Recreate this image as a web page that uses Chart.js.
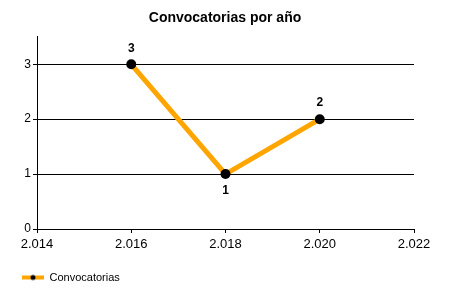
<!DOCTYPE html>
<html>
<head>
<meta charset="utf-8">
<script src="https://cdn.jsdelivr.net/npm/chart.js@4.4.1/dist/chart.umd.min.js"></script>
<style>
  html, body { margin: 0; padding: 0; background: #fff; }
  #wrap { width: 450px; height: 300px; }
</style>
</head>
<body>
<div id="wrap"><canvas id="chartCanvas" width="450" height="300"></canvas></div>
<script>
const years = [2016, 2018, 2020];
const convocatorias = [3, 1, 2];
const seriesName = 'Convocatorias';
const chartTitle = 'Convocatorias por año';

const orange = '#FFA500';
const font = '"Liberation Sans", Arial, sans-serif';

// legend symbol: orange line with a black dot in the middle
function legendSymbol() {
    const c = document.createElement('canvas');
    c.width = 22;
    c.height = 8;
    const g = c.getContext('2d');
    g.fillStyle = orange;
    g.fillRect(0, 2, 22, 4);
    g.fillStyle = '#000';
    g.beginPath();
    g.arc(11, 4, 2.5, 0, Math.PI * 2);
    g.fill();
    return c;
}
const symbol = legendSymbol();

// value labels above the points, below a local minimum
const valueLabels = {
    id: 'valueLabels',
    afterDatasetsDraw(chart) {
        const ctx = chart.ctx;
        const meta = chart.getDatasetMeta(0);
        const values = chart.data.datasets[0].data.map(p => p.y);
        ctx.save();
        ctx.font = 'bold 12px ' + font;
        ctx.fillStyle = '#000';
        ctx.textAlign = 'center';
        ctx.textBaseline = 'middle';
        meta.data.forEach((pt, i) => {
            const v = values[i];
            const prev = i > 0 ? values[i - 1] : Infinity;
            const next = i < values.length - 1 ? values[i + 1] : Infinity;
            const below = v < prev && v < next;
            ctx.fillText(String(v), pt.x, below ? pt.y + 17 : pt.y - 16);
        });
        ctx.restore();
    }
};

const ctx = document.getElementById('chartCanvas').getContext('2d');
new Chart(ctx, {
    type: 'line',
    data: {
        datasets: [{
            label: seriesName,
            data: years.map((y, i) => ({ x: y, y: convocatorias[i] })),
            borderColor: orange,
            borderWidth: 5,
            tension: 0,
            pointStyle: 'circle',
            pointRadius: 5,
            pointHoverRadius: 5,
            pointBackgroundColor: '#000',
            pointBorderColor: '#000',
            pointBorderWidth: 0
        }]
    },
    options: {
        responsive: false,
        animation: false,
        events: [],
        layout: { padding: { left: 12, right: 12, top: 0, bottom: 7 } },
        plugins: {
            title: {
                display: true,
                text: chartTitle,
                color: '#000',
                font: { family: font, size: 14, weight: 'bold' },
                padding: { top: 10, bottom: 10 }
            },
            legend: {
                display: true,
                position: 'bottom',
                align: 'start',
                labels: {
                    usePointStyle: true,
                    pointStyleWidth: 22,
                    padding: 10,
                    color: '#000',
                    font: { family: font, size: 11 },
                    generateLabels: chart => chart.data.datasets.map((ds, i) => ({
                        text: ds.label,
                        pointStyle: symbol,
                        fillStyle: orange,
                        strokeStyle: orange,
                        lineWidth: 0,
                        fontColor: '#000',
                        hidden: false,
                        datasetIndex: i
                    }))
                }
            },
            tooltip: { enabled: false }
        },
        scales: {
            x: {
                type: 'linear',
                min: 2014,
                max: 2022,
                ticks: {
                    stepSize: 2,
                    color: '#000',
                    padding: 4,
                    font: { family: font, size: 13 },
                    callback: v => (v / 1000).toFixed(3)
                },
                grid: { drawOnChartArea: false, drawTicks: true, tickLength: 4, color: '#000' },
                border: { color: '#000', width: 1 },
                afterFit: s => { s.height = 33; }
            },
            y: {
                min: 0,
                max: 3.5,
                ticks: {
                    stepSize: 1,
                    color: '#000',
                    padding: 2,
                    font: { family: font, size: 12 }
                },
                grid: { color: '#000', drawTicks: true, tickLength: 4, lineWidth: 1 },
                border: { color: '#000', width: 1 },
                afterBuildTicks: s => { s.ticks = s.ticks.filter(t => Number.isInteger(t.value)); },
                afterFit: s => { s.width = 25; }
            },
            // empty axis that keeps the space on the right of the plot
            yRight: {
                position: 'right',
                min: 0,
                max: 1,
                ticks: { display: false },
                grid: { display: false },
                border: { display: false },
                afterFit: s => { s.width = 24; }
            }
        }
    },
    plugins: [valueLabels]
});
</script>
</body>
</html>
